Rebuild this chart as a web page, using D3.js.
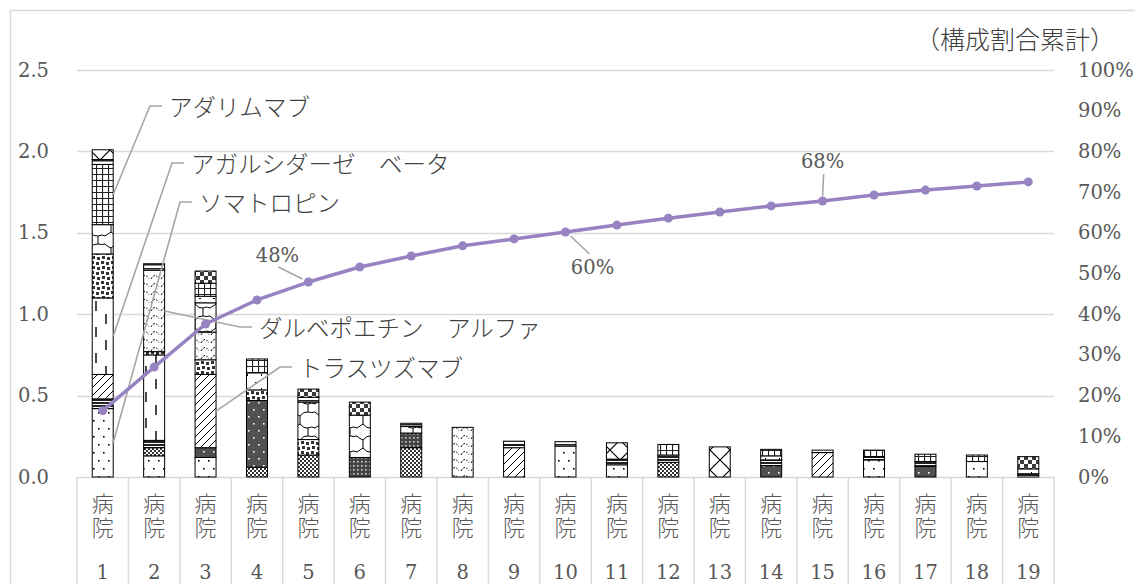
<!DOCTYPE html>
<html><head><meta charset="utf-8">
<script src="https://cdn.jsdelivr.net/npm/d3@7"></script>
<style>html,body{margin:0;padding:0;background:#fff}svg{display:block}</style>
</head><body>
<svg id="chart" width="1135" height="584"></svg>
<script>
// ---------------- data ----------------
const hospitals = ["1","2","3","4","5","6","7","8","9","10","11","12","13","14","15","16","17","18","19"];
const hospitalPrefix = "病院";
const leftTicks = [0, 0.5, 1.0, 1.5, 2.0, 2.5];
const rightTicks = [0, 0.1, 0.2, 0.3, 0.4, 0.5, 0.6, 0.7, 0.8, 0.9, 1.0];
const rightTitle = "（構成割合累計）";

// stacked series (bottom -> top)
const somatropin   = [0.42,0.13,0.12,0,0,0,0,0,0,0.19,0.075,0,0,0,0,0.105,0,0.095,0];
const smallChecker = [0,0.05,0,0.06,0.135,0,0.18,0,0,0,0,0.09,0,0,0,0,0,0,0];
const darkGrid     = [0,0,0,0,0,0.12,0.09,0,0,0,0,0,0,0,0,0,0,0,0];
const darkSolid    = [0,0,0.06,0.41,0,0,0,0,0,0,0,0,0,0.07,0,0,0.065,0,0];
const darkBand     = [0.06,0.045,0,0,0,0,0,0,0,0,0.035,0.045,0,0.035,0,0.02,0.03,0,0.02];
const trastuzumab  = [0.15,0,0.45,0,0,0,0,0,0.18,0,0,0,0,0,0.15,0,0,0,0];
const agalsidase   = [0.47,0.525,0,0,0,0,0,0,0,0,0,0,0,0,0,0,0,0,0];
const bigDots      = [0.27,0.02,0.09,0.065,0.095,0,0,0,0,0,0,0,0,0,0,0,0,0,0];
const darbepoetin  = [0,0.50,0.17,0,0,0,0,0.305,0,0,0,0,0,0,0,0,0,0,0];
const curvy        = [0.18,0,0.18,0,0.23,0.26,0.04,0,0,0,0,0,0,0,0,0,0,0,0];
const light        = [0,0,0.04,0.105,0,0,0,0,0.015,0,0,0,0,0.025,0,0,0,0,0.03];
const adalimumab   = [0.37,0,0.08,0.085,0,0,0,0,0,0,0,0.065,0,0.04,0,0.04,0.045,0.04,0];
const topBand      = [0.03,0.04,0,0,0.03,0,0.02,0,0.025,0.027,0,0,0,0,0.015,0,0,0,0];
const checker      = [0,0,0.075,0,0.05,0.08,0,0,0,0,0,0,0,0,0,0,0,0,0.075];
const xcross       = [0.06,0,0,0,0,0,0,0,0,0,0.10,0,0.185,0,0,0,0,0,0];

// cumulative share (right axis)
const cumulative = [0.163,0.270,0.376,0.435,0.479,0.516,0.543,0.568,0.585,0.602,0.619,0.636,0.651,0.666,0.678,0.693,0.705,0.715,0.725];

const seriesKeys = ["somatropin","smallChecker","darkGrid","darkSolid","darkBand","trastuzumab","agalsidase","bigDots","darbepoetin","curvy","light","adalimumab","topBand","checker","xcross"];
const seriesArrays = {somatropin,smallChecker,darkGrid,darkSolid,darkBand,trastuzumab,agalsidase,bigDots,darbepoetin,curvy,light,adalimumab,topBand,checker,xcross};

// annotated series: label, hospital index, series key
const annotations = [
  {label:"アダリムマブ", h:0, key:"adalimumab", ex:150, ey:106},
  {label:"アガルシダーゼ　ベータ", h:0, key:"agalsidase", ex:172, ey:163},
  {label:"ソマトロピン", h:0, key:"somatropin", ex:180, ey:202},
  {label:"ダルベポエチン　アルファ", h:1, key:"darbepoetin", ex:240, ey:327},
  {label:"トラスツズマブ", h:2, key:"trastuzumab", ex:280, ey:367}
];
const lineLabels = [
  {i:4, dx:-31, dy:-27, l1:[-6,-3], l2:[-30,-15]},
  {i:9, dx:27, dy:36, l1:[5,4], l2:[24,22]},
  {i:14, dx:0, dy:-40, l1:[0,-5], l2:[1,-27]}
];

// ---------------- layout ----------------
const W = 1135, H = 584;
const plot = {left:77, right:1054, top:70, bottom:477};
const numFont = "'DejaVu Serif', 'Liberation Serif', serif";
const jpFont = "'Noto Sans CJK JP', 'Noto Sans', sans-serif";
const txtColor = "#595959";
const gridColor = "#d9d9d9";
const lineColor = "#9783c1";

const svg = d3.select("#chart");
const defs = svg.append("defs");

// ---------------- patterns ----------------
function pat(id, w, h, bg, draw){
  const p = defs.append("pattern").attr("id", id).attr("patternUnits","userSpaceOnUse")
    .attr("width", w).attr("height", h);
  p.append("rect").attr("width", w).attr("height", h).attr("fill", bg);
  draw(p);
}
const ink = "#000";
pat("p-somatropin", 10, 16, "#fff", p => {
  p.append("rect").attr("x",3).attr("y",4).attr("width",1.6).attr("height",1.6).attr("fill",ink);
  p.append("rect").attr("x",8).attr("y",12).attr("width",1.6).attr("height",1.6).attr("fill",ink);
});
pat("p-smallChecker", 4, 4, "#fff", p => {
  p.append("rect").attr("x",0).attr("y",0).attr("width",2).attr("height",2).attr("fill","#333");
  p.append("rect").attr("x",2).attr("y",2).attr("width",2).attr("height",2).attr("fill","#333");
});
pat("p-darkGrid", 4, 4, "#444", p => {
  p.append("rect").attr("x",1).attr("y",1).attr("width",1.6).attr("height",1.6).attr("fill","#ccc");
});
pat("p-darkSolid", 10, 14, "#505050", p => {
  p.append("rect").attr("x",3).attr("y",3).attr("width",1.6).attr("height",1.6).attr("fill","#fff");
  p.append("rect").attr("x",8).attr("y",10).attr("width",1.6).attr("height",1.6).attr("fill","#fff");
});
pat("p-darkBand", 4, 3, "#fff", p => {
  p.append("rect").attr("x",0).attr("y",0).attr("width",4).attr("height",2).attr("fill","#222");
});
pat("p-trastuzumab", 8, 8, "#fff", p => {
  p.append("path").attr("d","M0,8 L8,0 M-2,2 L2,-2 M6,10 L10,6").attr("stroke",ink).attr("stroke-width",1);
});
pat("p-agalsidase", 20, 26, "#fff", p => {
  p.append("path").attr("d","M6,2 V12 M16,15 V25").attr("stroke",ink).attr("stroke-width",1.4);
});
pat("p-bigDots", 10, 10, "#fff", p => {
  [[1,1],[6,2],[2,6],[7,7]].forEach(([x,y]) =>
    p.append("rect").attr("x",x).attr("y",y).attr("width",3).attr("height",3).attr("fill","#333"));
});
pat("p-darbepoetin", 10, 8, "#fff", p => {
  p.append("path").attr("d","M1,7 Q5,0 9,7").attr("fill","none").attr("stroke",ink)
    .attr("stroke-width",1).attr("stroke-dasharray","2,1.5");
});
pat("p-curvy", 21, 24, "#fff", p => {
  p.append("path").attr("d","M0,4 Q3,7 6,8 L6,16 Q3,18 0,20 M6,8 Q10,3 14,4 Q18,5 21,4 M6,16 Q10,21 14,20 Q18,18 21,20 M14,4 V0 M14,20 V24")
    .attr("fill","none").attr("stroke",ink).attr("stroke-width",1);
});
pat("p-light", 14, 14, "#fff", p => {
  p.append("rect").attr("x",3).attr("y",4).attr("width",2).attr("height",1).attr("fill",ink);
  p.append("rect").attr("x",9).attr("y",10).attr("width",1).attr("height",2).attr("fill",ink);
});
pat("p-adalimumab", 6, 6, "#fff", p => {
  p.append("path").attr("d","M0,0.5 H6 M0.5,0 V6").attr("stroke","#222").attr("stroke-width",1.2);
});
pat("p-topBand", 4, 4, "#fff", p => {
  p.append("rect").attr("x",0).attr("y",0).attr("width",4).attr("height",1.5).attr("fill","#222");
});
pat("p-checker", 8, 8, "#fff", p => {
  p.append("rect").attr("x",0).attr("y",0).attr("width",4).attr("height",4).attr("fill","#3a3a3a");
  p.append("rect").attr("x",4).attr("y",4).attr("width",4).attr("height",4).attr("fill","#3a3a3a");
});
pat("p-xcross", 20, 20, "#fff", p => {
  p.append("path").attr("d","M0,0 L20,20 M20,0 L0,20").attr("stroke",ink).attr("stroke-width",1.2);
});

// ---------------- scales ----------------
const x = d3.scaleBand().domain(hospitals).range([plot.left, plot.right]).paddingInner(0.592).paddingOuter(0.296);
const xCell = d3.scaleBand().domain(hospitals).range([plot.left, plot.right]).padding(0);
const y = d3.scaleLinear().domain([0, 2.5]).range([plot.bottom, plot.top]);
const y2 = d3.scaleLinear().domain([0, 1]).range([plot.bottom, plot.top]);

// frame
svg.append("rect").attr("x",10.5).attr("y",10.5).attr("width",1300).attr("height",800)
  .attr("fill","none").attr("stroke",gridColor).attr("stroke-width",1.5);

// gridlines
svg.append("g").selectAll("line").data(leftTicks).join("line")
  .attr("x1",plot.left).attr("x2",plot.right)
  .attr("y1",d=>Math.round(y(d))+0.5).attr("y2",d=>Math.round(y(d))+0.5)
  .attr("stroke",gridColor).attr("stroke-width",1.5);

// category table
const cellEdges = hospitals.map(h => xCell(h)).concat([plot.right]);
svg.append("g").selectAll("line").data(cellEdges).join("line")
  .attr("x1",d=>d).attr("x2",d=>d).attr("y1",plot.bottom).attr("y2",H+5)
  .attr("stroke",gridColor).attr("stroke-width",1.5);

const cat = svg.append("g").attr("fill",txtColor);
hospitals.forEach(h => {
  const cx = xCell(h) + xCell.bandwidth()/2;
  cat.append("text").attr("x",cx).attr("y",493)
    .style("writing-mode","vertical-rl").style("letter-spacing","2px")
    .style("font-family",jpFont).style("font-size","22px").style("font-weight",300)
    .text(hospitalPrefix);
  cat.append("text").attr("x",cx).attr("y",579).attr("text-anchor","middle")
    .style("font-family",numFont).style("font-size","19.5px").text(h);
});

// left axis labels
svg.append("g").selectAll("text").data(leftTicks).join("text")
  .attr("x",49).attr("y",d=>y(d)).attr("text-anchor","end").attr("dominant-baseline","central")
  .attr("fill",txtColor).style("font-family",numFont).style("font-size","19.5px")
  .text(d=>d3.format(".1f")(d));

// right axis labels
svg.append("g").selectAll("text").data(rightTicks).join("text")
  .attr("x",1078).attr("y",d=>y2(d)).attr("text-anchor","start").attr("dominant-baseline","central")
  .attr("fill",txtColor).style("font-family",numFont).style("font-size","19.5px")
  .text(d=>d3.format(".0%")(d));

svg.append("text").attr("x",1115).attr("y",38).attr("text-anchor","end").attr("dominant-baseline","central")
  .attr("fill","#404040").style("font-family",jpFont).style("font-size","25px").style("font-weight",300)
  .text(rightTitle);

// ---------------- stacked bars ----------------
const table = hospitals.map((h,i) => {
  const row = {hospital:h};
  seriesKeys.forEach(k => row[k] = seriesArrays[k][i]);
  return row;
});
const stacked = d3.stack().keys(seriesKeys)(table);

const barsG = svg.append("g");
stacked.forEach(layer => {
  barsG.append("g").selectAll("rect").data(layer.filter(d => d[1]-d[0] > 0)).join("rect")
    .attr("x", d => x(d.data.hospital))
    .attr("width", x.bandwidth())
    .attr("y", d => y(d[1]))
    .attr("height", d => y(d[0]) - y(d[1]))
    .attr("fill", `url(#p-${layer.key})`)
    .attr("stroke", "#000").attr("stroke-width", 1);
});

// ---------------- annotations ----------------
const annG = svg.append("g");
annotations.forEach(a => {
  const layer = stacked.find(s => s.key === a.key);
  const d = layer[a.h];
  const ax = x(hospitals[a.h]) + x.bandwidth();
  const ay = y((d[0]+d[1])/2);
  annG.append("path").attr("d", `M${ax},${ay} L${a.ex},${a.ey} H${a.ex+12}`)
    .attr("fill","none").attr("stroke","#a6a6a6").attr("stroke-width",1.6);
  annG.append("text").attr("x", a.ex+19).attr("y", a.ey).attr("dominant-baseline","central")
    .attr("fill","#404040").style("font-family",jpFont).style("font-size","23.5px").style("font-weight",300)
    .text(a.label);
});

// ---------------- cumulative line ----------------
const cx = (h) => x(h) + x.bandwidth()/2;
const lineGen = d3.line().x((d,i)=>cx(hospitals[i])).y(d=>y2(d));
svg.append("path").datum(cumulative).attr("d", lineGen)
  .attr("fill","none").attr("stroke",lineColor).attr("stroke-width",3.5).attr("stroke-linejoin","round");
svg.append("g").selectAll("circle").data(cumulative).join("circle")
  .attr("cx",(d,i)=>cx(hospitals[i])).attr("cy",d=>y2(d)).attr("r",4.5).attr("fill",lineColor);

const llG = svg.append("g");
lineLabels.forEach(l => {
  const px = cx(hospitals[l.i]), py = y2(cumulative[l.i]);
  llG.append("line").attr("x1",px+l.l1[0]).attr("y1",py+l.l1[1]).attr("x2",px+l.l2[0]).attr("y2",py+l.l2[1])
    .attr("stroke","#a6a6a6").attr("stroke-width",1.6);
  llG.append("text").attr("x",px+l.dx).attr("y",py+l.dy).attr("text-anchor","middle").attr("dominant-baseline","central")
    .attr("fill",txtColor).style("font-family",numFont).style("font-size","19.5px")
    .text(d3.format(".0%")(cumulative[l.i]));
});
</script>
</body></html>
